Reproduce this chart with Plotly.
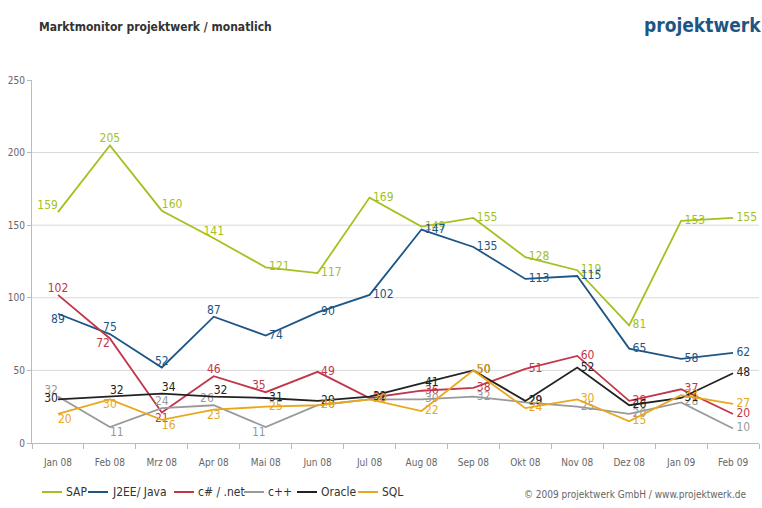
import plotly.graph_objects as go

months = ["Jan 08", "Feb 08", "Mrz 08", "Apr 08", "Mai 08", "Jun 08", "Jul 08",
          "Aug 08", "Sep 08", "Okt 08", "Nov 08", "Dez 08", "Jan 09", "Feb 09"]

sap    = [159, 205, 160, 141, 121, 117, 169, 149, 155, 128, 119, 81, 153, 155]
j2ee   = [89, 75, 52, 87, 74, 90, 102, 147, 135, 113, 115, 65, 58, 62]
csharp = [102, 72, 21, 46, 35, 49, 31, 36, 38, 51, 60, 29, 37, 20]
cpp    = [32, 11, 24, 26, 11, 26, 30, 30, 32, 28, 25, 20, 28, 10]
oracle = [30, 32, 34, 32, 31, 29, 32, 41, 50, 29, 52, 26, 31, 48]
sql    = [20, 30, 16, 23, 25, 26, 30, 22, 50, 24, 30, 15, 33, 27]

series_names = ["SAP", "J2EE/ Java", "c# / .net", "c++", "Oracle", "SQL"]
series_vals = [sap, j2ee, csharp, cpp, oracle, sql]
colors = ["#a3c11f", "#1d5585", "#c2364a", "#999999", "#222222", "#e8a71c"]

MR = "middle right"
positions = [
    ["top left", "top center", "top right", "top center", MR, MR, MR, MR, MR, MR, MR, MR, MR, MR],
    ["bottom center", "top center", "top center", "top center", MR, MR, MR, MR, MR, MR, MR, MR, MR, MR],
    ["top center", "bottom left", "bottom center", "top center", "top left", MR, MR, MR, MR, MR, MR, MR, MR, MR],
    ["top left", "bottom right", "top center", "top left", "bottom left", MR, MR, MR, MR, MR, MR, MR, MR, MR],
    ["middle left", "top right", "top right", "top right", MR, MR, MR, MR, MR, MR, MR, MR, MR, MR],
    ["bottom right", "bottom center", "bottom right", "bottom center", MR, MR, MR, MR, MR, MR, MR, MR, MR, MR],
]

FONT = "DejaVu Sans Condensed, DejaVu Sans, sans-serif"

fig = go.Figure()
for name, vals, col, pos in zip(series_names, series_vals, colors, positions):
    labels = [("\u00a0" + str(v)) if p == MR else str(v) for v, p in zip(vals, pos)]
    fig.add_trace(go.Scatter(
        x=months, y=vals, name=name, mode="lines+text",
        text=labels, textposition=pos,
        textfont=dict(family=FONT, size=12, color=col),
        line=dict(color=col, width=1.8), cliponaxis=False, showlegend=False,
        hoverinfo="x+y+name",
    ))

grid_vals = [50, 100, 150, 200]
shapes = []
for g in grid_vals:
    shapes.append(dict(type="line", xref="paper", yref="y", x0=0, x1=1, y0=g, y1=g,
                       line=dict(color="#d9d9d9", width=1), layer="below"))

PW, PH, PL, PB = 727, 363, 32, 443

def px(x):
    return (x - PL) / PW

def py(y):
    return (PB - y) / PH

# manual legend
annotations = []
leg_x = [42, 88, 174, 244, 297, 358]
leg_y = 492
for name, col, lx in zip(series_names, colors, leg_x):
    shapes.append(dict(type="line", xref="paper", yref="paper",
                       x0=px(lx), x1=px(lx + 20), y0=py(leg_y), y1=py(leg_y),
                       line=dict(color=col, width=2)))
    annotations.append(dict(text=name, xref="paper", yref="paper",
                            x=px(lx + 22), y=py(leg_y),
                            xanchor="left", yanchor="middle", showarrow=False,
                            font=dict(family=FONT, size=12, color="#333333")))

annotations.append(dict(text="<b>Marktmonitor projektwerk / monatlich</b>", xref="paper", yref="paper",
                        x=px(37), y=py(27), xanchor="left", yanchor="middle",
                        showarrow=False, font=dict(family=FONT, size=12, color="#333333")))
annotations.append(dict(text="<b>projektwerk</b>", xref="paper", yref="paper",
                        x=px(763), y=py(25), xanchor="right", yanchor="middle",
                        showarrow=False, font=dict(family=FONT, size=19, color="#1d5585")))
annotations.append(dict(text="© 2009 projektwerk GmbH / www.projektwerk.de", xref="paper", yref="paper",
                        x=px(749), y=py(494), xanchor="right", yanchor="middle",
                        showarrow=False, font=dict(family=FONT, size=10, color="#666666")))

fig.update_layout(
    width=762, height=508,
    margin=dict(l=32, r=3, t=80, b=65),
    paper_bgcolor="white", plot_bgcolor="white",
    font=dict(family=FONT, size=10, color="#666666"),
    shapes=shapes, annotations=annotations,
    xaxis=dict(type="category", range=[-0.5, len(months) - 0.5], showgrid=False,
               showline=True, linecolor="#bbbbbb",
               ticks="outside", tickson="boundaries", ticklen=5, tickcolor="#bbbbbb",
               ticklabelstandoff=10,
               tickfont=dict(family=FONT, size=10, color="#666666"), fixedrange=True,
               automargin=False),
    yaxis=dict(range=[0, 250], dtick=50, showgrid=False, showline=True, linecolor="#bbbbbb",
               ticks="outside", ticklen=4, tickcolor="#bbbbbb", zeroline=False,
               tickfont=dict(family=FONT, size=10, color="#666666"), fixedrange=True,
               automargin=False),
)

fig.write_html("out.html")
